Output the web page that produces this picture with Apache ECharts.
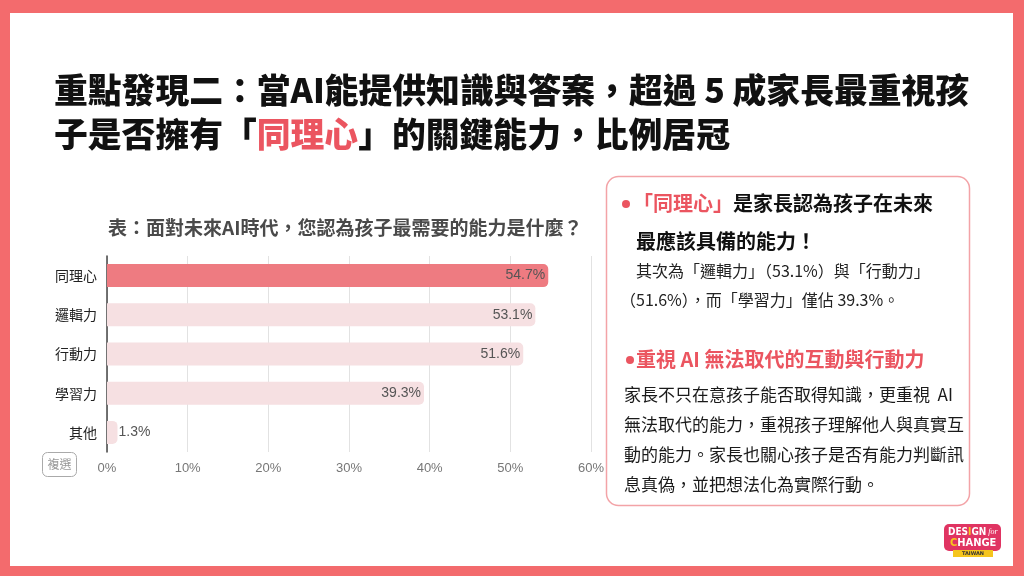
<!DOCTYPE html>
<html><head><meta charset="utf-8">
<script src="https://cdn.jsdelivr.net/npm/echarts@6/dist/echarts.min.js"></script>
<style>html,body{margin:0;padding:0;background:#F36B6D;}#c{width:1024px;height:576px;}</style>
</head><body><div id="c"></div>
<script>
// ---- data ----
const categories = ['同理心', '邏輯力', '行動力', '學習力', '其他'];
const values = [54.7, 53.1, 51.6, 39.3, 1.3];
const highlightIndex = 0;
const xTickMax = 60;
const xTickStep = 10;
const chartTitle = '表：面對未來AI時代，您認為孩子最需要的能力是什麼？';
const headLine1a = '重點發現二：當AI能提供知識與答案，超過 5 成家長最重視孩';
const headLine2a = '子是否擁有「';
const headLine2b = '同理心';
const headLine2c = '」的關鍵能力，比例居冠';
const note1Lines = ['其次為「邏輯力」（53.1%）與「行動力」', '（51.6%），而「學習力」僅佔 39.3%。'];
const note2Lines = ['家長不只在意孩子能否取得知識，更重視  AI', '無法取代的能力，重視孩子理解他人與真實互', '動的能力。家長也關心孩子是否有能力判斷訊', '息真偽，並把想法化為實際行動。'];

const CJK = '"Noto Sans CJK TC", "Noto Sans CJK SC", sans-serif';
const RED = '#EB5560';

const chart = echarts.init(document.getElementById('c'), null, {renderer: 'canvas'});

const graphic = [
  // white sheet
  {type: 'rect', z: -10, shape: {x: 10, y: 13, width: 1003, height: 553}, style: {fill: '#ffffff'}, silent: true},
  // headline
  {type: 'text', style: {x: 54, y: 90, text: headLine1a, fill: '#111', font: '900 33.8px ' + CJK, verticalAlign: 'middle'}},
  {type: 'text', style: {x: 54, y: 134, text: '{k|' + headLine2a + '}{r|' + headLine2b + '}{k|' + headLine2c + '}', verticalAlign: 'middle',
    rich: {k: {fill: '#111', font: '900 33.8px ' + CJK}, r: {fill: RED, font: '900 33.8px ' + CJK}}}},
  // copy button
  {type: 'rect', shape: {x: 42.5, y: 452.5, width: 34, height: 24, r: 5}, style: {fill: '#fff', stroke: '#aaaaaa', lineWidth: 1}},
  {type: 'text', style: {x: 59.5, y: 464.5, text: '複選', fill: '#999', font: '12px ' + CJK, align: 'center', verticalAlign: 'middle'}},
  // right box
  {type: 'rect', shape: {x: 606.5, y: 176.5, width: 363, height: 329, r: 12}, style: {fill: '#fff', stroke: '#F3A3A7', lineWidth: 1.5}},
  {type: 'circle', shape: {cx: 626, cy: 204, r: 4}, style: {fill: RED}},
  {type: 'text', style: {x: 633, y: 203, verticalAlign: 'middle', text: '{r|「同理心」}{k|是家長認為孩子在未來}',
    rich: {r: {fill: RED, font: 'bold 20px ' + CJK}, k: {fill: '#111', font: 'bold 20px ' + CJK}}}},
  {type: 'text', style: {x: 636, y: 241, verticalAlign: 'middle', text: '最應該具備的能力！', fill: '#111', font: 'bold 20px ' + CJK}},
  {type: 'text', style: {x: 636, y: 271, verticalAlign: 'middle', text: note1Lines[0], fill: '#222', font: '16px ' + CJK}},
  {type: 'text', style: {x: 620, y: 300, verticalAlign: 'middle', text: note1Lines[1], fill: '#222', font: '16px ' + CJK}},
  {type: 'circle', shape: {cx: 630, cy: 360, r: 4}, style: {fill: RED}},
  {type: 'text', style: {x: 636, y: 359, verticalAlign: 'middle', text: '重視 AI 無法取代的互動與行動力', fill: RED, font: 'bold 20px ' + CJK}},
  // logo
  {type: 'rect', shape: {x: 944, y: 524, width: 57, height: 27, r: 5}, style: {fill: '#E03462'}},
  {type: 'text', style: {x: 948, y: 532, verticalAlign: 'middle', text: '{w|DES}{y|I}{w|GN}{f| for}', rich: {
    w: {fill: '#fff', font: 'bold 10px "DejaVu Sans Condensed", sans-serif'},
    y: {fill: '#F7C61D', font: 'bold 10px "DejaVu Sans Condensed", sans-serif'},
    f: {fill: '#fff', font: 'italic 8px "Liberation Serif", serif'}}}},
  {type: 'text', style: {x: 950, y: 543, verticalAlign: 'middle', text: '{y|C}{w|HANGE}', rich: {
    w: {fill: '#fff', font: 'bold 11px "DejaVu Sans Condensed", sans-serif'},
    y: {fill: '#F7C61D', font: 'bold 11px "DejaVu Sans Condensed", sans-serif'}}}},
  {type: 'rect', shape: {x: 953, y: 550, width: 40, height: 7}, style: {fill: '#F5C51E'}},
  {type: 'text', style: {x: 973, y: 553.5, align: 'center', verticalAlign: 'middle', text: 'TAIWAN', fill: '#333', font: 'bold 5px "DejaVu Sans", sans-serif'}}
];
note2Lines.forEach((t, i) => {
  graphic.push({type: 'text', style: {x: 624, y: 395 + i * 29.7, verticalAlign: 'middle', text: t, fill: '#1a1a1a', font: '17px ' + CJK}});
});

const option = {
  backgroundColor: '#F36B6D',
  animation: false,
  title: {
    text: chartTitle, left: 103, top: 213,
    textStyle: {fontFamily: CJK, fontWeight: 'bold', fontSize: 19, color: '#4a4a4a'}
  },
  grid: {left: 107, right: 433, top: 256, bottom: 124, containLabel: false},
  xAxis: {
    type: 'value', min: 0, max: xTickMax, interval: xTickStep,
    axisLine: {show: false}, axisTick: {show: false},
    splitLine: {lineStyle: {color: '#e2e2e2', width: 1}},
    axisLabel: {formatter: '{value}%', color: '#777', fontSize: 13, margin: 10, fontFamily: '"Liberation Sans", Arial, sans-serif'}
  },
  yAxis: {
    type: 'category', data: categories, inverse: true,
    axisLine: {show: true, lineStyle: {color: '#444', width: 1.5}},
    axisTick: {show: false},
    axisLabel: {color: '#222', fontSize: 14, margin: 10, fontFamily: CJK}
  },
  series: [{
    type: 'bar',
    barWidth: 23,
    data: values.map((v, i) => ({
      value: v,
      itemStyle: {color: i === highlightIndex ? '#EE7B81' : '#F6E0E2', borderRadius: [0, 5, 5, 0]},
      label: v < 5 ? {position: 'right', distance: 1} : {position: 'insideRight', distance: 3}
    })),
    label: {
      show: true, formatter: '{c}%', color: '#555', fontSize: 14,
      fontFamily: '"Liberation Sans", Arial, sans-serif'
    }
  }],
  graphic: graphic
};
chart.setOption(option);
</script>
</body></html>
